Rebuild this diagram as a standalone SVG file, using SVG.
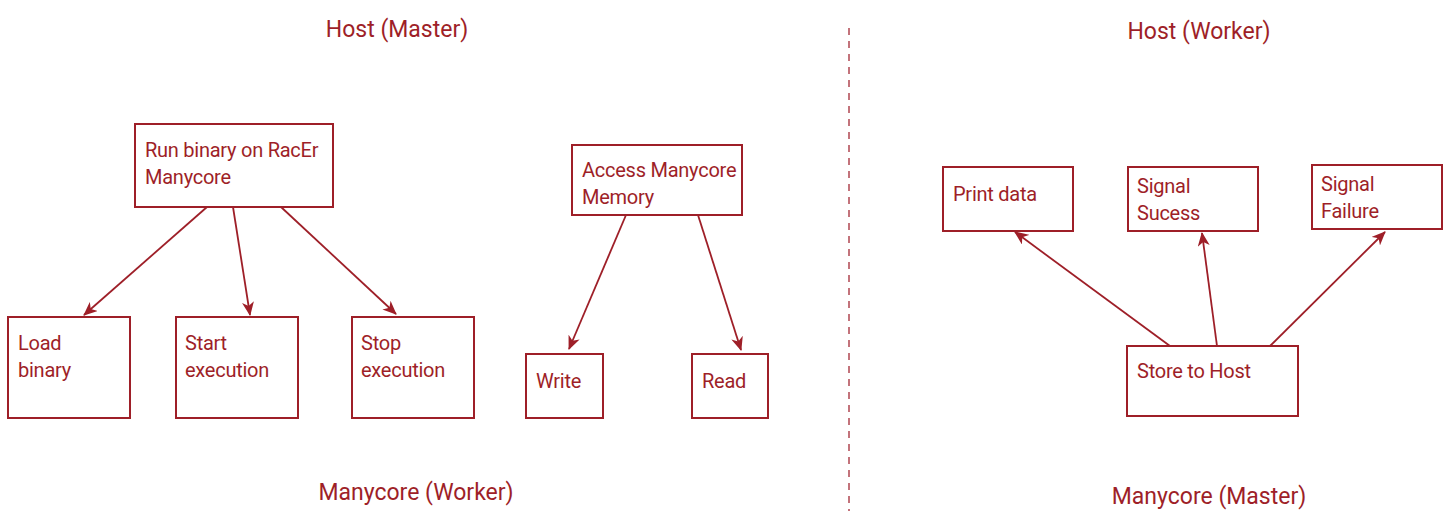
<svg xmlns="http://www.w3.org/2000/svg" width="1450" height="511" viewBox="0 0 1450 511">
  <style>
    .box { fill: #ffffff; stroke: #9e1f28; stroke-width: 2; }
    .lbl { font-family: Roboto, "Liberation Sans", sans-serif; font-size: 20px; letter-spacing: -0.25px; fill: #9e1f28; }
    .hdr { font-family: Roboto, "Liberation Sans", sans-serif; font-size: 23px; fill: #9e1f28; text-anchor: middle; }
    .edge { stroke: #9e1f28; stroke-width: 1.8; fill: none; marker-end: url(#arrow); }
    .divider { stroke: #b04550; stroke-width: 1.5; stroke-dasharray: 7 6; }
  </style>
  <defs>
    <marker id="arrow" viewBox="0 0 14 12" refX="13" refY="6" markerWidth="14" markerHeight="12" markerUnits="userSpaceOnUse" orient="auto">
      <path d="M0,0 L14,6 L0,12 L4,6 z" fill="#9e1f28"/>
    </marker>
  </defs>

  <rect width="1450" height="511" fill="#ffffff"/>

  <!-- section headers -->
  <text class="hdr" x="397" y="37">Host (Master)</text>
  <text class="hdr" x="416" y="500">Manycore (Worker)</text>
  <text class="hdr" x="1199" y="39">Host (Worker)</text>
  <text class="hdr" x="1209" y="504">Manycore (Master)</text>

  <!-- separator between the two halves -->
  <line class="divider" x1="849" y1="28" x2="849" y2="511"/>

  <g id="connectors">
    <line class="edge" x1="207" y1="207" x2="84" y2="315"/>
    <line class="edge" x1="233" y1="207" x2="250" y2="315"/>
    <line class="edge" x1="281" y1="207" x2="396" y2="314"/>
    <line class="edge" x1="626" y1="215" x2="569" y2="349"/>
    <line class="edge" x1="698" y1="215" x2="741" y2="350"/>
    <line class="edge" x1="1170" y1="346" x2="1015" y2="232"/>
    <line class="edge" x1="1217" y1="346" x2="1202" y2="233"/>
    <line class="edge" x1="1270" y1="346" x2="1385" y2="232"/>
  </g>

  <g id="run-binary">
    <rect class="box" x="135" y="124" width="198" height="83"/>
    <text class="lbl" x="145" y="157">Run binary on RacEr</text>
    <text class="lbl" x="145" y="184">Manycore</text>
  </g>
  <g id="load-binary">
    <rect class="box" x="8" y="317" width="122" height="101"/>
    <text class="lbl" x="18" y="350">Load</text>
    <text class="lbl" x="18" y="377">binary</text>
  </g>
  <g id="start-execution">
    <rect class="box" x="176" y="317" width="122" height="101"/>
    <text class="lbl" x="185" y="350">Start</text>
    <text class="lbl" x="185" y="377">execution</text>
  </g>
  <g id="stop-execution">
    <rect class="box" x="352" y="317" width="122" height="101"/>
    <text class="lbl" x="361" y="350">Stop</text>
    <text class="lbl" x="361" y="377">execution</text>
  </g>
  <g id="access-memory">
    <rect class="box" x="572" y="145" width="170" height="70"/>
    <text class="lbl" x="582" y="177">Access Manycore</text>
    <text class="lbl" x="582" y="204">Memory</text>
  </g>
  <g id="write">
    <rect class="box" x="526" y="354" width="77" height="64"/>
    <text class="lbl" x="536" y="388">Write</text>
  </g>
  <g id="read">
    <rect class="box" x="692" y="354" width="76" height="64"/>
    <text class="lbl" x="702" y="388">Read</text>
  </g>
  <g id="print-data">
    <rect class="box" x="943" y="167" width="130" height="64"/>
    <text class="lbl" x="953" y="201">Print data</text>
  </g>
  <g id="signal-success">
    <rect class="box" x="1128" y="167" width="130" height="64"/>
    <text class="lbl" x="1137" y="193">Signal</text>
    <text class="lbl" x="1137" y="220">Sucess</text>
  </g>
  <g id="signal-failure">
    <rect class="box" x="1312" y="165" width="130" height="64"/>
    <text class="lbl" x="1321" y="191">Signal</text>
    <text class="lbl" x="1321" y="218">Failure</text>
  </g>
  <g id="store-to-host">
    <rect class="box" x="1127" y="346" width="171" height="70"/>
    <text class="lbl" x="1137" y="378">Store to Host</text>
  </g>
</svg>
